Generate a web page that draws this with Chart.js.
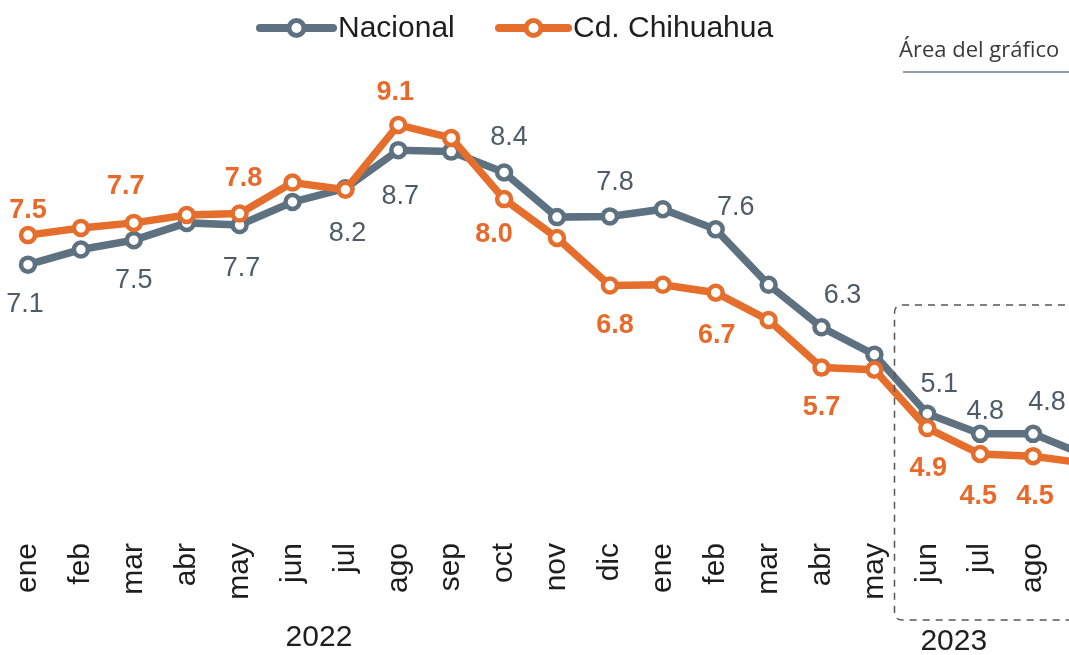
<!DOCTYPE html>
<html>
<head>
<meta charset="utf-8">
<script src="https://cdn.jsdelivr.net/npm/chart.js@4.4.1/dist/chart.umd.min.js"></script>
<style>
  html, body { margin: 0; padding: 0; background: #fff; overflow: hidden; }
  #wrap { width: 1110px; height: 655px; }
</style>
</head>
<body>
<div id="wrap"><canvas id="inflChart" width="1110" height="655"></canvas></div>
<script>

const months = ["ene","feb","mar","abr","may","jun","jul","ago","sep","oct","nov","dic",
                "ene","feb","mar","abr","may","jun","jul","ago","sep"];
const years = ["2022", "2023"];

const nacional = [7.13, 7.34, 7.47, 7.71, 7.68, 8.00, 8.19, 8.72, 8.70, 8.41, 7.79, 7.80,
                  7.90, 7.62, 6.85, 6.26, 5.88, 5.06, 4.78, 4.78, 4.48];
const chihuahua = [7.54, 7.64, 7.71, 7.82, 7.84, 8.27, 8.17, 9.07, 8.89, 8.04, 7.50, 6.84,
                   6.85, 6.74, 6.36, 5.70, 5.67, 4.86, 4.50, 4.47, 4.37];

const GRAY = "#5d7180";
const ORANGE = "#e66e2c";

// which points carry a value label, and where it sits (dx, dy from the point)
const nacionalTags = {0:[-3,40], 2:[0,40], 4:[2,44], 6:[2,45], 7:[2,46], 9:[5,-35],
                      11:[5,-34], 13:[20,-22], 15:[21,-32], 17:[12,-29], 18:[5,-22], 19:[14,-31]};
const chihuahuaTags = {0:[0,-25], 2:[-8,-36], 4:[4,-35], 7:[-3,-32], 9:[-10,35], 11:[5,40],
                       13:[1,43], 15:[0,40], 17:[1,40], 18:[-2,43], 19:[2,40]};

const valueLabels = {
  id: "valueLabels",
  afterDatasetsDraw(chart){
    const ctx = chart.ctx;
    chart.data.datasets.forEach((ds, i) => {
      const meta = chart.getDatasetMeta(i);
      ctx.save();
      ctx.font = ds.tagFont;
      ctx.fillStyle = ds.tagColor;
      ctx.textAlign = "center";
      ctx.textBaseline = "middle";
      Object.keys(ds.tags).forEach(k => {
        const pt = meta.data[k];
        const off = ds.tags[k];
        ctx.fillText(ds.data[k].toFixed(1), pt.x + off[0], pt.y + off[1]);
      });
      ctx.restore();
    });
  }
};

const extras = {
  id: "extras",
  afterDraw(chart){
    const ctx = chart.ctx;
    const x = chart.scales.x;
    const y = chart.scales.y;
    const area = chart.chartArea;

    // legend
    const items = [
      {text: "Nacional", color: GRAY, x0: 260, x1: 333},
      {text: "Cd. Chihuahua", color: ORANGE, x0: 499, x1: 568}
    ];
    ctx.save();
    items.forEach(it => {
      const ly = 28;
      ctx.strokeStyle = it.color;
      ctx.lineWidth = 8;
      ctx.lineCap = "round";
      ctx.beginPath();
      ctx.moveTo(it.x0, ly);
      ctx.lineTo(it.x1, ly);
      ctx.stroke();
      ctx.beginPath();
      ctx.arc((it.x0 + it.x1) / 2, ly, 7.5, 0, Math.PI * 2);
      ctx.fillStyle = "#fff";
      ctx.fill();
      ctx.lineWidth = 5;
      ctx.stroke();
      ctx.fillStyle = "#1e1e1e";
      ctx.font = '30px "Liberation Sans", Arial, sans-serif';
      ctx.textAlign = "left";
      ctx.textBaseline = "middle";
      ctx.fillText(it.text, it.x1 + 5, ly + 1);
    });
    ctx.restore();

    // year labels
    ctx.save();
    ctx.fillStyle = "#1e1e1e";
    ctx.font = '30px "Liberation Sans", Arial, sans-serif';
    ctx.textAlign = "center";
    ctx.textBaseline = "middle";
    ctx.fillText(years[0], (x.getPixelForValue(0) + x.getPixelForValue(11)) / 2, 638);
    ctx.fillText(years[1], (x.getPixelForValue(17) + x.getPixelForValue(18)) / 2, 642);
    ctx.restore();

    // dashed highlight box
    const bx = x.getPixelForValue(16) + 0.38 * (x.getPixelForValue(17) - x.getPixelForValue(16));
    const by = y.getPixelForValue(6.57);
    const bb = area.bottom + 94;
    const br = chart.width + 20;
    const r = 8;
    ctx.save();
    ctx.strokeStyle = "#555";
    ctx.lineWidth = 1.5;
    ctx.setLineDash([7, 6]);
    ctx.beginPath();
    ctx.moveTo(br, by);
    ctx.lineTo(bx + r, by);
    ctx.quadraticCurveTo(bx, by, bx, by + r);
    ctx.lineTo(bx, bb - r);
    ctx.quadraticCurveTo(bx, bb, bx + r, bb);
    ctx.lineTo(br, bb);
    ctx.stroke();
    ctx.restore();

    // "Área del gráfico" hover caption
    ctx.save();
    ctx.fillStyle = "#3a3a3a";
    ctx.font = '22px "Open Sans", sans-serif';
    ctx.textAlign = "left";
    ctx.textBaseline = "alphabetic";
    ctx.fillText("Área del gráfico", 899, 57);
    ctx.strokeStyle = "#8e9eab";
    ctx.lineWidth = 2;
    ctx.beginPath();
    ctx.moveTo(903, 72);
    ctx.lineTo(1069, 72);
    ctx.stroke();
    ctx.restore();
  }
};

const ctx = document.getElementById("inflChart").getContext("2d");

new Chart(ctx, {
  type: "line",
  data: {
    labels: months,
    datasets: [
      {
        label: "Nacional",
        data: nacional,
        borderColor: GRAY,
        backgroundColor: GRAY,
        borderWidth: 7.5,
        pointRadius: 7,
        pointBorderWidth: 4.5,
        pointBackgroundColor: "#fff",
        pointBorderColor: GRAY,
        tension: 0,
        order: 1,
        tags: nacionalTags,
        tagColor: "#4f5b66",
        tagFont: '27px "Liberation Sans", Arial, sans-serif'
      },
      {
        label: "Cd. Chihuahua",
        data: chihuahua,
        borderColor: ORANGE,
        backgroundColor: ORANGE,
        borderWidth: 7.5,
        pointRadius: 7,
        pointBorderWidth: 4.5,
        pointBackgroundColor: "#fff",
        pointBorderColor: ORANGE,
        tension: 0,
        order: 0,
        tags: chihuahuaTags,
        tagColor: "#e8692a",
        tagFont: 'bold 27px "Liberation Sans", Arial, sans-serif'
      }
    ]
  },
  options: {
    responsive: false,
    animation: false,
    layout: {
      padding: {top: 58, left: 28, right: 24, bottom: 0}
    },
    plugins: {
      legend: {display: false},
      tooltip: {enabled: false}
    },
    scales: {
      x: {
        offset: false,
        grid: {display: false, drawTicks: false},
        border: {display: false},
        ticks: {
          autoSkip: false,
          minRotation: 90,
          maxRotation: 90,
          padding: 17,
          color: "#1e1e1e",
          font: {family: '"Liberation Sans", Arial, sans-serif', size: 30}
        },
        afterFit(scale){
          scale.height = 129;
          scale.paddingLeft = 0;
          scale.paddingRight = 0;
        }
      },
      y: {
        display: false,
        min: 3.5,
        max: 10
      }
    }
  },
  plugins: [valueLabels, extras]
});

</script>
</body>
</html>
